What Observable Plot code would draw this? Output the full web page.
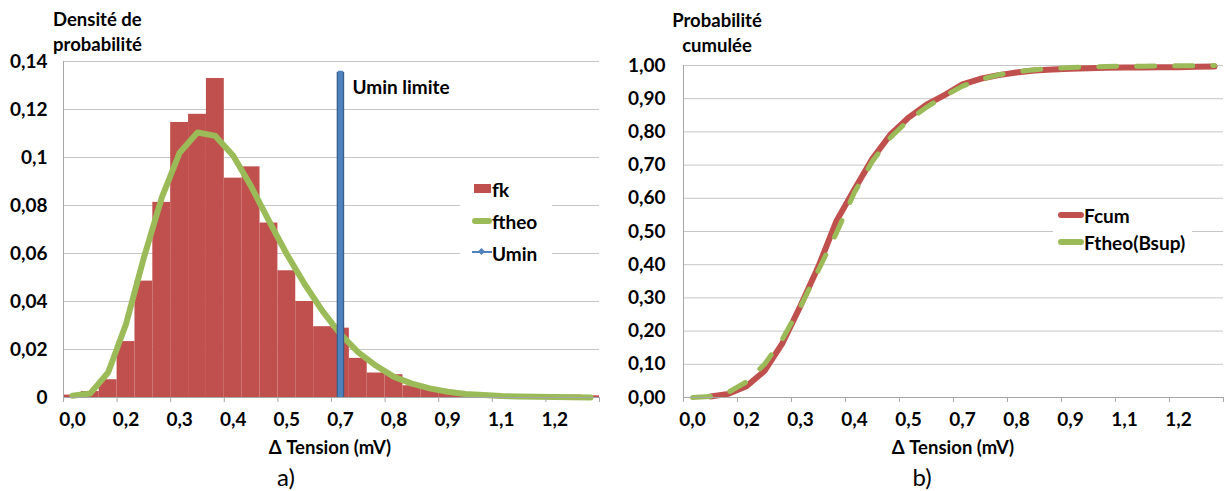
<!DOCTYPE html>
<html><head><meta charset="utf-8">
<script src="https://cdn.jsdelivr.net/npm/d3@7"></script>
<script src="https://cdn.jsdelivr.net/npm/@observablehq/plot@0.6"></script>
<style>
body{margin:0;background:#fff;font-family:Lato,"Open Sans",sans-serif;}
#wrap{position:relative;width:1225px;height:491px;overflow:hidden;background:#fff;}
.p{position:absolute;top:0;}
.t{position:absolute;font-weight:bold;font-size:18.5px;color:#000;white-space:nowrap;line-height:25px;}
.cap{position:absolute;font-size:24px;color:#000;white-space:nowrap;line-height:1;}
.leg{position:absolute;background:#fff;}
.sw{position:absolute;}
.lt{position:absolute;font-weight:bold;font-size:19px;line-height:1;white-space:nowrap;transform:translateY(-50%);}
</style></head><body>
<div id="wrap"></div>
<script>
// ---- data ----
const tickLabels = ["0,0","0,2","0,3","0,4","0,5","0,7","0,8","0,9","1,1","1,2"];
const fk = [0.001,0.0025,0.0074,0.0233,0.0485,0.0813,0.1146,0.118,0.1329,0.0914,0.0961,0.0727,0.0528,0.040,0.0295,0.0289,0.0163,0.0102,0.0095,0.0049,0.0035,0.002,0.0012,0.0008,0.0005,0.0003,0.0002,0.0005,0.001,0.0007];
const ftheo = [0.0007,0.0017,0.0104,0.0306,0.0583,0.0833,0.102,0.1104,0.109,0.1007,0.088,0.0736,0.0597,0.0472,0.036,0.0264,0.0188,0.0132,0.0086,0.0058,0.0038,0.0024,0.0015,0.001,0.0006,0.0004,0.0003,0.0002,0.0001,0.0];
const Fcum = [null,0.003,0.011,0.034,0.080,0.164,0.276,0.395,0.532,0.627,0.720,0.792,0.843,0.882,0.911,0.943,0.960,0.971,0.979,0.985,0.988,0.990,0.992,0.993,0.994,0.994,0.995,0.995,0.996,0.997];
const Ftheo = [0.000,0.003,0.016,0.047,0.100,0.176,0.274,0.384,0.496,0.618,0.712,0.783,0.835,0.874,0.908,0.938,0.958,0.972,0.981,0.987,0.991,0.994,0.996,0.997,0.998,0.998,0.999,0.999,0.999,1.000];
const uminCategory = 15;
const uminTop = 0.1355;
const yTicksLeft = [0,0.02,0.04,0.06,0.08,0.1,0.12,0.14];
const yTicksRight = [0,0.1,0.2,0.3,0.4,0.5,0.6,0.7,0.8,0.9,1.0];

const nCat = fk.length;
const RED = "#c0504d", GREEN = "#9bbb59", BLUE = "#4f81bd", BLUE_D = "#385d8a";
const GRID = "#c6c6c6", AXIS = "#a6a6a6";
const FONT = "Lato, 'Open Sans', sans-serif";

const fkData = fk.map((v,i)=>({i,v}));
const ftheoData = ftheo.map((v,i)=>({i,v}));
const FcumData = Fcum.map((v,i)=>({i,v}));
const FtheoData = Ftheo.map((v,i)=>({i,v}));
const boundaryTicks = d3.range(0, nCat+1, 3);
const labelTicks = tickLabels.map((_,j)=>j*3+0.5);
const labelFmt = d => tickLabels[Math.round((d-0.5)/3)];

const style = {fontFamily: FONT, fontSize: "19px", fontWeight: "bold", color:"#000", background:"#fff"};

const left = Plot.plot({
  width: 612, height: 491,
  marginLeft: 63, marginRight: 13, marginTop: 61, marginBottom: 94,
  style,
  x: {domain: [0, nCat]},
  y: {domain: [0, 0.14]},
  marks: [
    Plot.gridY(yTicksLeft.filter(d=>d>0), {stroke: GRID, strokeOpacity: 1}),
    Plot.rectY(fkData, {x1: "i", x2: d=>d.i+1, y: "v", fill: RED}),
    Plot.line(ftheoData, {x: d=>d.i+0.5, y: "v", stroke: GREEN, strokeWidth: 6, strokeLinejoin: "round", strokeLinecap: "round"}),
    Plot.ruleX([uminCategory+0.5], {y1: 0, y2: uminTop, stroke: BLUE_D, strokeWidth: 7.5}),
    Plot.ruleX([uminCategory+0.5], {y1: 0, y2: uminTop, stroke: BLUE, strokeWidth: 5, insetTop: 1, insetBottom: 1}),
    Plot.text(["Umin limite"], {x: uminCategory+0.5, y: uminTop, dx: 12, dy: 16, textAnchor: "start", fontSize: 19, fontWeight: "bold", fill: "#000"}),
    Plot.ruleY([0], {stroke: AXIS}),
    Plot.ruleX([0], {stroke: AXIS}),
    Plot.axisY({ticks: yTicksLeft, tickFormat: d => String(+d.toFixed(2)).replace(".", ","), tickSize: 0, tickPadding: 16, label: null}),
    Plot.axisX({ticks: boundaryTicks, tickFormat: () => "", tickSize: 5, stroke: AXIS, label: null}),
    Plot.axisX({ticks: labelTicks, tickFormat: labelFmt, tickSize: 0, tickPadding: 15, label: null})
  ]
});

const right = Plot.plot({
  width: 613, height: 491,
  marginLeft: 71, marginRight: 2, marginTop: 65, marginBottom: 94,
  style,
  x: {domain: [0, nCat]},
  y: {domain: [0, 1]},
  marks: [
    Plot.gridY(yTicksRight.filter(d=>d>0), {stroke: GRID, strokeOpacity: 1}),
    Plot.line(FcumData, {filter: d=>d.v!=null, x: d=>d.i+0.5, y: "v", stroke: RED, strokeWidth: 6, strokeLinejoin: "round", strokeLinecap: "round"}),
    Plot.line(FtheoData, {x: d=>d.i+0.5, y: "v", stroke: GREEN, strokeWidth: 5, strokeDasharray: "18,20", strokeLinecap: "round", strokeLinejoin: "round"}),
    Plot.ruleY([0], {stroke: AXIS}),
    Plot.ruleX([0], {stroke: AXIS}),
    Plot.axisY({ticks: yTicksRight, tickFormat: d => d.toFixed(2).replace(".", ","), tickSize: 0, tickPadding: 18, label: null}),
    Plot.axisX({ticks: boundaryTicks, tickFormat: () => "", tickSize: 5, stroke: AXIS, label: null}),
    Plot.axisX({ticks: labelTicks, tickFormat: labelFmt, tickSize: 0, tickPadding: 15, label: null})
  ]
});

const wrap = document.getElementById("wrap");
left.classList.add("p"); left.style.left = "0px";
right.classList.add("p"); right.style.left = "612px";
wrap.appendChild(left); wrap.appendChild(right);

function el(cls, css, html){ const d=document.createElement("div"); d.className=cls; Object.assign(d.style, css); if(html!=null) d.innerHTML=html; wrap.appendChild(d); return d; }

// titles
el("t", {left:"53px", top:"7px"}, "Densité de<br>probabilité");
el("t", {left:"717px", top:"8px", textAlign:"center", transform:"translateX(-50%)"}, "Probabilité<br>cumulée");
el("t", {left:"330px", top:"435px", transform:"translateX(-50%)"}, "Δ Tension (mV)");
el("t", {left:"953px", top:"435px", transform:"translateX(-50%)"}, "Δ Tension (mV)");
el("cap", {left:"286px", top:"465px", transform:"translateX(-50%)"}, "a)");
el("cap", {left:"922px", top:"465px", transform:"translateX(-50%)"}, "b)");

// legend left
el("leg", {left:"460px", top:"172px", width:"92px", height:"92px"});
el("sw", {left:"474px", top:"184px", width:"17px", height:"9px", background:RED});
el("lt", {left:"492px", top:"189px"}, "fk");
el("sw", {left:"472px", top:"218px", width:"20px", height:"6px", background:GREEN, borderRadius:"3px"});
el("lt", {left:"492px", top:"221px"}, "ftheo");
el("sw", {left:"472px", top:"251px", width:"20px", height:"2px", background:BLUE});
el("sw", {left:"479px", top:"249px", width:"5px", height:"5px", background:BLUE, transform:"rotate(45deg)"});
el("lt", {left:"492px", top:"253px"}, "Umin");

// legend right
el("leg", {left:"1053px", top:"201px", width:"139px", height:"60px"});
el("sw", {left:"1058px", top:"212px", width:"26px", height:"6px", background:RED, borderRadius:"3px"});
el("lt", {left:"1084px", top:"215px"}, "Fcum");
el("sw", {left:"1058px", top:"239px", width:"26px", height:"6px", background:GREEN, borderRadius:"3px"});
el("lt", {left:"1084px", top:"242px"}, "Ftheo(Bsup)");
</script>
</body></html>
